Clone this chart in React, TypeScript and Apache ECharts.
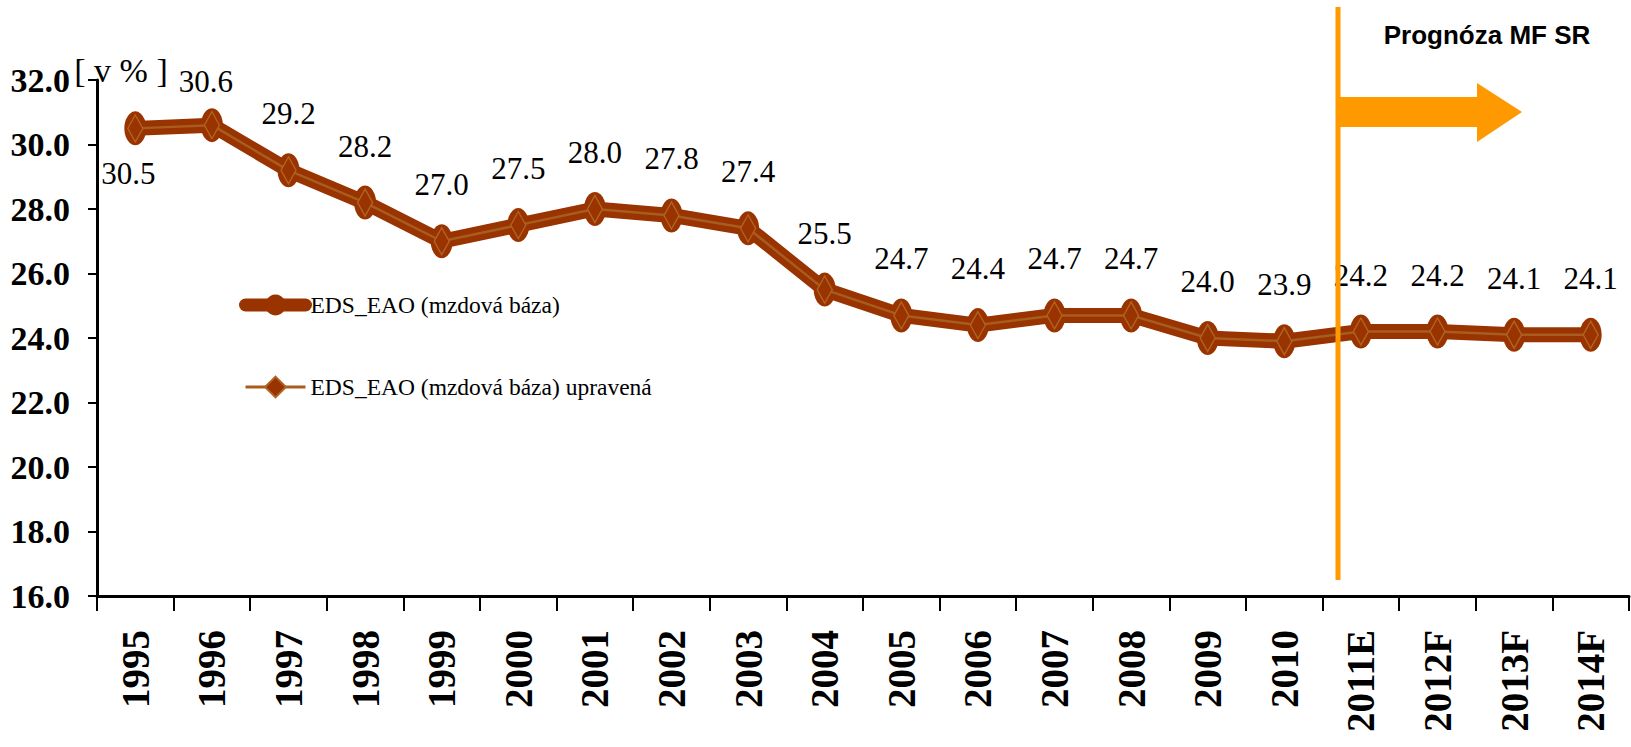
import React, { useEffect, useRef } from "react";
import * as echarts from "echarts";

const categories = [
  "1995", "1996", "1997", "1998", "1999", "2000", "2001", "2002", "2003", "2004",
  "2005", "2006", "2007", "2008", "2009", "2010", "2011E", "2012F", "2013F", "2014F",
];
const edsEao = [30.5, 30.6, 29.2, 28.2, 27.0, 27.5, 28.0, 27.8, 27.4, 25.5, 24.7, 24.4, 24.7, 24.7, 24.0, 23.9, 24.2, 24.2, 24.1, 24.1];
const edsEaoAdj = [30.5, 30.6, 29.2, 28.2, 27.0, 27.5, 28.0, 27.8, 27.4, 25.5, 24.7, 24.4, 24.7, 24.7, 24.0, 23.9, 24.2, 24.2, 24.1, 24.1];
const seriesNames = ["EDS_EAO (mzdová báza)", "EDS_EAO (mzdová báza) upravená"];
const yMin = 16;
const yMax = 32;
const yStep = 2;
const unitLabel = "[ v % ]";
const forecastLabel = "Prognóza MF SR";

const SERIF = "'Liberation Serif', 'Times New Roman', serif";
const SANS = "'Liberation Sans', Arial, sans-serif";

export default function App() {
  const ref = useRef<HTMLDivElement>(null);
  useEffect(() => {
    if (!ref.current) return;
    const chart = echarts.init(ref.current, null, { renderer: "svg" });
    const mainData = edsEao.map((v, i) => {
      if (i === 0) return { value: v, label: { position: "bottom", distance: 13, offset: [-7, 0] } };
      if (i === 1) return { value: v, label: { distance: 11, offset: [-6, 0] } };
      return v;
    });
    chart.setOption({
      animation: false,
      backgroundColor: "#ffffff",
      grid: { left: 97, right: 2, top: 80, bottom: 151, containLabel: false },
      legend: {
        orient: "vertical",
        left: 234,
        top: 288,
        itemWidth: 60,
        itemHeight: 26,
        itemGap: 58,
        data: [
          { name: seriesNames[0], lineStyle: { width: 13, cap: "round" } },
          { name: seriesNames[1], lineStyle: { width: 3 } },
        ],
        textStyle: { fontFamily: SERIF, fontSize: 23.5, color: "#000" },
      },
      xAxis: {
        type: "category",
        data: categories,
        boundaryGap: true,
        axisLine: { lineStyle: { color: "#000", width: 3 } },
        axisTick: { show: true, length: 15, lineStyle: { color: "#000", width: 2 } },
        axisLabel: {
          interval: 0,
          rotate: 90,
          margin: 34,
          fontFamily: SERIF,
          fontWeight: "bold",
          fontSize: 39,
          color: "#000",
        },
        splitLine: { show: false },
      },
      yAxis: {
        type: "value",
        min: yMin,
        max: yMax,
        interval: yStep,
        axisLine: { show: true, lineStyle: { color: "#000", width: 3 } },
        axisTick: { show: true, length: 9, lineStyle: { color: "#000", width: 2 } },
        axisLabel: {
          margin: 27,
          fontFamily: SERIF,
          fontWeight: "bold",
          fontSize: 34,
          color: "#000",
          formatter: (v: number) => v.toFixed(1),
        },
        splitLine: { show: false },
      },
      series: [
        {
          name: seriesNames[0],
          type: "line",
          data: mainData,
          symbol: "circle",
          symbolSize: [22, 34],
          lineStyle: { color: "#993300", width: 15 },
          itemStyle: { color: "#993300" },
          label: {
            show: true,
            position: "top",
            distance: 24,
            fontFamily: SERIF,
            fontSize: 31,
            color: "#000",
            formatter: (p: any) => Number(p.value).toFixed(1),
          },
          z: 2,
        },
        {
          name: seriesNames[1],
          type: "line",
          data: edsEaoAdj,
          symbol: "diamond",
          symbolSize: [15, 27],
          lineStyle: { color: "#A85C1E", width: 2.5 },
          itemStyle: { color: "#993300", borderColor: "#B06424", borderWidth: 1.5 },
          label: { show: false },
          z: 3,
        },
      ],
      graphic: [
        {
          type: "text",
          x: 121,
          y: 70,
          style: {
            text: unitLabel,
            fontFamily: SERIF,
            fontSize: 34,
            fill: "#000",
            align: "center",
            verticalAlign: "middle",
          },
        },
        {
          type: "line",
          shape: { x1: 1338, y1: 7, x2: 1338, y2: 580 },
          style: { stroke: "#FF9900", lineWidth: 5 },
          z: 10,
        },
        {
          type: "polygon",
          shape: {
            points: [
              [1340, 97], [1477, 97], [1477, 83], [1522, 112],
              [1477, 142], [1477, 127], [1340, 127],
            ],
          },
          style: { fill: "#FF9900" },
          z: 10,
        },
        {
          type: "text",
          x: 1487,
          y: 35,
          style: {
            text: forecastLabel,
            fontFamily: SANS,
            fontWeight: "bold",
            fontSize: 26,
            fill: "#000",
            align: "center",
            verticalAlign: "middle",
          },
          z: 10,
        },
      ],
    });
    return () => chart.dispose();
  }, []);
  return (
    <div
      ref={ref}
      style={{ position: "fixed", left: 0, top: 0, width: "1631px", height: "747px", background: "#fff" }}
    />
  );
}
